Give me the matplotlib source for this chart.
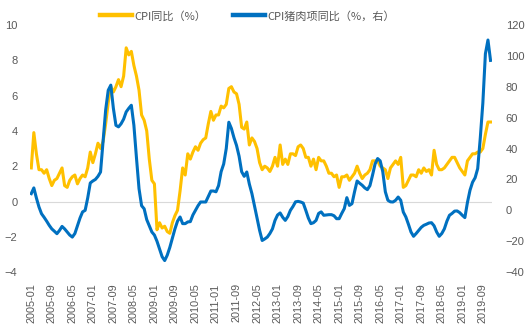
import pandas as pd
import matplotlib.pyplot as plt

plt.rcParams['font.family'] = ['Liberation Sans', 'Noto Sans CJK SC', 'DejaVu Sans']

# 月度数据 2005-01 ~ 2019-12
months = pd.date_range('2005-01-01', '2019-12-01', freq='MS').strftime('%Y-%m').tolist()

# CPI同比（%）
cpi = [
    1.9, 3.9, 2.7, 1.8, 1.8, 1.6, 1.8, 1.3, 0.9, 1.2, 1.3, 1.6,      # 2005
    1.9, 0.9, 0.8, 1.2, 1.4, 1.5, 1.0, 1.3, 1.5, 1.4, 1.9, 2.8,      # 2006
    2.2, 2.7, 3.3, 3.0, 3.4, 4.4, 5.6, 6.5, 6.2, 6.5, 6.9, 6.5,      # 2007
    7.1, 8.7, 8.3, 8.5, 7.7, 7.1, 6.3, 4.9, 4.6, 4.0, 2.4, 1.2,      # 2008
    1.0, -1.6, -1.2, -1.5, -1.4, -1.7, -1.8, -1.2, -0.8, -0.5, 0.6, 1.9,  # 2009
    1.5, 2.7, 2.4, 2.8, 3.1, 2.9, 3.3, 3.5, 3.6, 4.4, 5.1, 4.6,      # 2010
    4.9, 4.9, 5.4, 5.3, 5.5, 6.4, 6.5, 6.2, 6.1, 5.5, 4.2, 4.1,      # 2011
    4.5, 3.2, 3.6, 3.4, 3.0, 2.2, 1.8, 2.0, 1.9, 1.7, 2.0, 2.5,      # 2012
    2.0, 3.2, 2.1, 2.4, 2.1, 2.7, 2.7, 2.6, 3.1, 3.2, 3.0, 2.5,      # 2013
    2.5, 2.0, 2.4, 1.8, 2.5, 2.3, 2.3, 2.0, 1.6, 1.6, 1.4, 1.5,      # 2014
    0.8, 1.4, 1.4, 1.5, 1.2, 1.4, 1.6, 2.0, 1.6, 1.3, 1.5, 1.6,      # 2015
    1.8, 2.3, 2.3, 2.3, 2.0, 1.9, 1.8, 1.3, 1.9, 2.1, 2.3, 2.1,      # 2016
    2.5, 0.8, 0.9, 1.2, 1.5, 1.5, 1.4, 1.8, 1.6, 1.9, 1.7, 1.8,      # 2017
    1.5, 2.9, 2.1, 1.8, 1.8, 1.9, 2.1, 2.3, 2.5, 2.5, 2.2, 1.9,      # 2018
    1.7, 1.5, 2.3, 2.5, 2.7, 2.7, 2.8, 2.8, 3.0, 3.8, 4.5, 4.5,      # 2019
]

# CPI猪肉项同比（%，右轴）
pork = [
    10.8, 14.5, 8.0, 2.2, -2.2, -4.5, -7.0, -9.7, -12.0, -13.5, -15.1, -13.0,    # 2005
    -10.4, -12.0, -14.0, -16.0, -17.3, -15.0, -10.0, -5.0, -1.0, 0.0, 8.0, 17.7,  # 2006
    19.0, 20.0, 22.0, 24.8, 45.0, 65.0, 77.7, 81.0, 66.0, 55.0, 54.0, 56.0,     # 2007
    59.0, 63.7, 66.0, 68.0, 55.0, 34.0, 14.0, 3.0, 1.0, -6.0, -10.0, -14.0,     # 2008
    -16.0, -20.0, -25.0, -30.0, -32.5, -29.0, -24.0, -18.0, -12.0, -7.0, -4.3, -8.6,  # 2009
    -8.6, -7.5, -7.3, -3.0, 0.0, 3.0, 5.4, 5.4, 5.4, 9.0, 12.5, 12.5,           # 2010
    12.0, 16.0, 25.0, 30.0, 40.0, 57.0, 53.0, 47.0, 42.0, 35.0, 25.0, 22.0,     # 2011
    24.8, 17.0, 10.8, 3.0, -5.0, -13.0, -19.5, -18.5, -17.3, -15.0, -12.0, -6.5,  # 2012
    -3.0, -1.7, -4.5, -6.5, -4.0, 0.0, 2.5, 5.5, 5.8, 5.4, 4.7, 0.0,            # 2013
    -5.0, -8.6, -8.0, -6.5, -2.0, -1.0, -3.2, -3.0, -2.8, -2.8, -3.5, -5.4,     # 2014
    -5.4, -2.0, 1.1, 8.2, 3.2, 4.3, 12.0, 19.0, 17.5, 16.2, 14.5, 13.4,         # 2015
    16.0, 22.7, 30.0, 33.5, 32.0, 25.0, 12.0, 6.5, 5.5, 5.4, 6.5, 8.6,          # 2016
    6.5, -1.1, -4.3, -9.0, -14.0, -16.8, -15.0, -13.0, -11.0, -9.7, -9.0, -8.2,  # 2017
    -8.0, -10.0, -14.0, -16.8, -15.0, -12.0, -7.0, -3.2, -2.0, -0.5, -0.4, -1.5,  # 2018
    -3.2, -4.7, 5.1, 13.0, 18.2, 21.1, 27.0, 46.7, 69.3, 101.3, 110.2, 97.0,    # 2019
]

tick_pos = list(range(0, len(months), 8))
tick_labels = [months[i] for i in tick_pos]

yellow = '#FFC000'
blue = '#0070C0'
grey = '#595959'

fig = plt.figure(figsize=(5.26, 3.36), dpi=100)
ax = fig.add_axes([0.057, 0.19, 0.878, 0.736])
ax2 = ax.twinx()

x = range(len(months))
l1, = ax.plot(x, cpi, color=yellow, lw=2.2, solid_joinstyle='round')
l2, = ax2.plot(x, pork, color=blue, lw=2.2, solid_joinstyle='round')

ax.axhline(0, color='#d9d9d9', lw=0.8, zorder=0)

ax.set_xlim(-0.5, len(months) - 0.5)
ax.set_ylim(-4, 10)
ax.set_yticks(range(-4, 11, 2))
ax2.set_ylim(-40, 120)
ax2.set_yticks(range(-40, 121, 20))

ax.set_xticks(tick_pos)
ax.set_xticklabels(tick_labels, rotation=90)

for a in (ax, ax2):
    for s in a.spines.values():
        s.set_visible(False)
ax.tick_params(axis='x', length=0, pad=8, labelsize=7.8, colors=grey)
ax.tick_params(axis='y', length=0, pad=9, labelsize=8, colors=grey)
ax2.tick_params(axis='y', length=0, pad=10, labelsize=8, colors=grey)

leg_lines = [plt.Line2D([], [], color=yellow, lw=3.2),
             plt.Line2D([], [], color=blue, lw=3.2)]
fig.legend(leg_lines, ['CPI同比（%）', 'CPI猪肉项同比（%，右）'],
           loc='center', bbox_to_anchor=(247 / 526, 1 - 16 / 336), ncol=2,
           frameon=False, handlelength=2.9, handletextpad=0.2,
           columnspacing=2.4, labelcolor=grey,
           prop={'family': ['Noto Sans CJK SC', 'DejaVu Sans'], 'size': 8})

fig.savefig('out.png', dpi=100)
